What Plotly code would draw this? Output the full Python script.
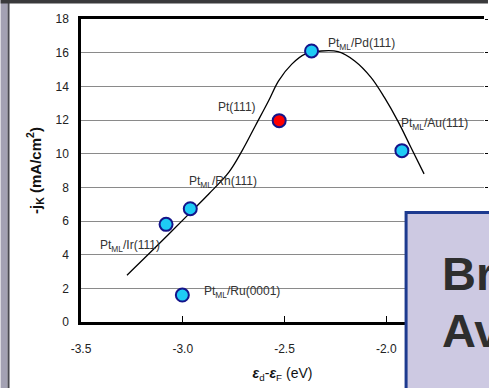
import plotly.graph_objects as go

# ---- data ----
point_names = ["Pt<sub>ML</sub>/Ir(111)", "Pt<sub>ML</sub>/Rh(111)", "Pt<sub>ML</sub>/Ru(0001)",
               "Pt(111)", "Pt<sub>ML</sub>/Pd(111)", "Pt<sub>ML</sub>/Au(111)"]
point_x = [-3.082, -2.963, -3.002, -2.526, -2.367, -1.923]
point_y = [5.80, 6.73, 1.60, 11.96, 16.10, 10.18]
point_colors = ["#1ecbf5", "#1ecbf5", "#1ecbf5", "#ff0000", "#1ecbf5", "#1ecbf5"]

label_x = [-3.416, -2.977, -2.903, -2.838, -2.294, -1.936]
label_y = [4.52, 8.31, 1.79, 12.75, 16.54, 11.78]

curve_x = [-3.274, -3.115, -2.968, -2.871, -2.773, -2.708, -2.643, -2.578, -2.529,
           -2.464, -2.399, -2.318, -2.237, -2.155, -2.074, -2.009, -1.944, -1.879, -1.814]
curve_y = [2.78, 4.66, 6.44, 7.62, 8.90, 10.18, 11.66, 13.14, 14.33,
           15.32, 15.91, 16.10, 16.06, 15.51, 14.52, 13.34, 11.96, 10.38, 8.80]

x_ticks = [-3.5, -3.0, -2.5, -2.0]
x_tick_labels = ["-3.5", "-3.0", "-2.5", "-2.0"]
y_ticks = [0, 2, 4, 6, 8, 10, 12, 14, 16, 18]

# ---- layout geometry helpers (pixel -> paper) ----
W, H = 489, 388
ML, MR, MT, MB = 81, 2, 19, 66
PW, PH = W - ML - MR, H - MT - MB


def px(x):
    return (x - ML) / PW


def py(y):
    return (H - MB - y) / PH


FONT = "Liberation Sans, Arial, sans-serif"

fig = go.Figure()

fig.add_trace(go.Scatter(
    x=curve_x, y=curve_y, mode="lines",
    line=dict(color="black", width=1.3, shape="spline", smoothing=1.0),
    hoverinfo="skip", showlegend=False))

fig.add_trace(go.Scatter(
    x=point_x, y=point_y, mode="markers",
    marker=dict(size=13, color=point_colors, line=dict(color="#14148a", width=2)),
    showlegend=False))

# invisible trace for right-side tick marks
fig.add_trace(go.Scatter(x=[point_x[0]], y=[point_y[0]], yaxis="y2", mode="markers",
                         marker=dict(opacity=0), showlegend=False, hoverinfo="skip"))

for name, lx, ly in zip(point_names, label_x, label_y):
    fig.add_annotation(x=lx, y=ly, text=name, showarrow=False, xanchor="left",
                       yanchor="middle", font=dict(family=FONT, size=12, color="#333333"))

shapes = [
    # slide frame decoration
    dict(type="rect", xref="paper", yref="paper", x0=px(0), x1=px(7), y0=py(H), y1=py(0),
         fillcolor="#a3a1b3", line=dict(width=0), layer="above"),
    dict(type="rect", xref="paper", yref="paper", x0=px(7), x1=px(9), y0=py(H), y1=py(0),
         fillcolor="#4a4a52", line=dict(width=0), layer="above"),
    dict(type="rect", xref="paper", yref="paper", x0=px(0), x1=px(W + 2), y0=py(3.5), y1=py(0),
         fillcolor="#3a3a3c", line=dict(width=0), layer="above"),
    # overlaid slide box
    dict(type="rect", xref="paper", yref="paper", x0=px(408.5), x1=px(W + 10), y0=py(H + 10), y1=py(212.5),
         fillcolor="#cdc9e2", line=dict(color="#1d3a8f", width=3), layer="above"),
]

fig.add_annotation(xref="paper", yref="paper", x=px(443), y=py(273), text="<b>Br</b>",
                   showarrow=False, xanchor="left", yanchor="middle",
                   font=dict(family=FONT, size=47, color="#2e2e2e"))
fig.add_annotation(xref="paper", yref="paper", x=px(443), y=py(330), text="<b>Av</b>",
                   showarrow=False, xanchor="left", yanchor="middle",
                   font=dict(family=FONT, size=47, color="#2e2e2e"))

fig.update_layout(
    width=W, height=H,
    margin=dict(l=ML, r=MR, t=MT, b=MB, pad=0),
    paper_bgcolor="white", plot_bgcolor="white",
    shapes=shapes,
    xaxis=dict(range=[-3.5, -3.5 + PW / 205.0], tickvals=x_ticks, ticktext=x_tick_labels,
               ticks="inside", ticklen=6, tickcolor="black", tickwidth=1,
               showline=True, linecolor="black", linewidth=2.5, mirror=True,
               showgrid=False, zeroline=False, ticklabelstandoff=14,
               tickfont=dict(family=FONT, size=12, color="#222222"),
               title=dict(text="<b><i>ε</i></b><sub>d</sub>-<b><i>ε</i></b><sub>F</sub> (eV)",
                          font=dict(family=FONT, size=14, color="#111111"), standoff=14)),
    yaxis=dict(range=[0, 18], tickvals=y_ticks, ticks="", showline=True, linecolor="black",
               linewidth=2.5, showgrid=True, gridcolor="#8a8a8a", gridwidth=1, zeroline=False,
               ticklabelstandoff=7,
               tickfont=dict(family=FONT, size=12, color="#222222"),
               title=dict(text="<b>-j<sub>K</sub> (mA/cm<sup>2</sup>)</b>",
                          font=dict(family=FONT, size=15, color="#111111"), standoff=11)),
    yaxis2=dict(range=[0, 18], tickvals=y_ticks, overlaying="y", side="right", ticks="outside",
                ticklen=3, tickcolor="black", showticklabels=False, showgrid=False,
                zeroline=False, showline=False),
)

fig.write_html("out.html", config={"displayModeBar": False},
               post_script="document.body.style.margin='0';document.body.style.overflow='hidden';")
